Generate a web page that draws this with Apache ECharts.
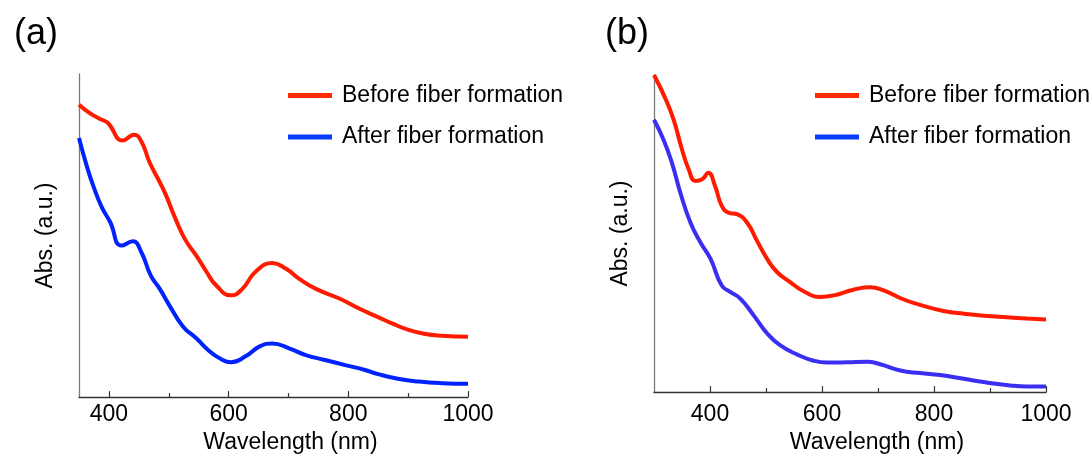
<!DOCTYPE html>
<html>
<head>
<meta charset="utf-8">
<script src="https://cdn.jsdelivr.net/npm/echarts@6/dist/echarts.min.js"></script>
<style>
html,body{margin:0;padding:0;background:#fff;}
#chart{width:1091px;height:459px;}
</style>
</head>
<body>
<div id="chart"></div>
<script>
// ---- Panel (a) data ----
const wlA_before = [350,368,385,398,423,442,454,468,485,496,510,527,546,563,579,604,623,645,673,696,718,746,785,818,848,873,902,929,957,1000];
const absA_before = [0.905,0.879,0.861,0.849,0.794,0.812,0.792,0.726,0.665,0.622,0.557,0.489,0.438,0.388,0.346,0.315,0.335,0.388,0.415,0.397,0.366,0.335,0.305,0.274,0.249,0.228,0.207,0.195,0.190,0.187];
const wlA_after = [350,363,374,388,402,421,440,454,470,485,501,524,546,568,585,604,629,652,673,701,729,761,795,828,850,885,918,957,1000];
const absA_after = [0.802,0.715,0.653,0.588,0.542,0.469,0.482,0.449,0.376,0.335,0.284,0.218,0.182,0.142,0.120,0.108,0.127,0.157,0.166,0.151,0.130,0.115,0.099,0.084,0.071,0.056,0.048,0.043,0.041];
// ---- Panel (b) data ----
const wlB_before = [300,320,335,350,362,374,386,397,409,421,433,448,466,484,502,520,543,567,597,621,656,686,710,746,781,817,853,889,930,966,1000];
const absB_before = [1.000,0.927,0.859,0.765,0.702,0.666,0.671,0.692,0.650,0.587,0.566,0.561,0.535,0.477,0.420,0.378,0.347,0.318,0.300,0.305,0.323,0.331,0.321,0.292,0.272,0.256,0.247,0.241,0.236,0.232,0.229];
const wlB_after = [300,317,332,347,365,383,401,421,436,454,478,502,525,555,585,609,645,680,704,740,775,811,853,894,936,966,1000];
const absB_after = [0.859,0.796,0.723,0.629,0.535,0.472,0.420,0.336,0.316,0.295,0.242,0.185,0.148,0.119,0.099,0.093,0.094,0.096,0.088,0.068,0.060,0.054,0.042,0.030,0.021,0.018,0.018];
// ---- axis ticks / labels ----
const majorTicks = [400,600,800,1000];
const minorTicks = [500,700,900];
const seriesNames = ['Before fiber formation','After fiber formation'];
const panelLabels = ['(a)','(b)'];

const zip = (xs, ys) => xs.map((x, i) => [x, ys[i]]);
const FONT = "'Liberation Sans', Arial, Helvetica, sans-serif";
const RED = '#ff1a00', BLUE_A = '#0022ff', BLUE_B = '#3a2ef2';

function xAxes(grid, min, labelMargin, nameGap, namePad) {
  return [
    {
      type: 'value', gridIndex: grid, min: min, max: 1000, position: 'bottom',
      name: 'Wavelength (nm)', nameLocation: 'middle', nameGap: nameGap,
      nameTextStyle: {fontFamily: FONT, fontSize: 23, color: '#000', padding: [0,0,0,namePad]},
      axisLine: {show: true, lineStyle: {color: '#333', width: 1.3}},
      axisTick: {show: true, inside: true, length: 6, customValues: majorTicks, lineStyle: {color: '#333', width: 1.2}},
      axisLabel: {customValues: majorTicks, margin: labelMargin, fontFamily: FONT, fontSize: 23, color: '#000',
                  formatter: v => String(v)},
      splitLine: {show: false}
    },
    {
      type: 'value', gridIndex: grid, min: min, max: 1000, position: 'bottom',
      axisLine: {show: false},
      axisTick: {show: true, inside: true, length: 4, customValues: minorTicks, lineStyle: {color: '#333', width: 1.2}},
      axisLabel: {show: false},
      splitLine: {show: false}
    }
  ];
}
function yAxis(grid) {
  return {
    type: 'value', gridIndex: grid, min: 0, max: 1,
    name: 'Abs. (a.u.)', nameLocation: 'middle', nameGap: 22,
    nameTextStyle: {fontFamily: FONT, fontSize: 23, color: '#000'},
    axisLine: {show: true, lineStyle: {color: '#7a7a7a', width: 1.3}},
    axisTick: {show: false}, axisLabel: {show: false}, splitLine: {show: false}
  };
}
function legend(left) {
  return {
    orient: 'vertical', left: left, top: 79, itemWidth: 44, itemHeight: 5, itemGap: 18.5,
    icon: 'rect', selectedMode: false,
    textStyle: {fontFamily: FONT, fontSize: 23, color: '#000', padding: [0,0,0,5]},
    data: [
      {name: seriesNames[0], itemStyle: {color: '#ff2a00'}},
      {name: seriesNames[1], itemStyle: {color: '#0a3cff'}}
    ]
  };
}
function line(name, data, xi, yi, color) {
  return {
    type: 'line', name: name, data: data, xAxisIndex: xi, yAxisIndex: yi,
    smooth: 0.5, showSymbol: false, symbol: 'none', animation: false,
    lineStyle: {color: color, width: 4}, itemStyle: {color: color}
  };
}

const chart = echarts.init(document.getElementById('chart'), null, {renderer: 'canvas'});
chart.setOption({
  backgroundColor: '#fff',
  animation: false,
  title: [
    {text: panelLabels[0], left: 9, top: 11, textStyle: {fontFamily: FONT, fontSize: 36, fontWeight: 'normal', color: '#000'}},
    {text: panelLabels[1], left: 600, top: 11, textStyle: {fontFamily: FONT, fontSize: 36, fontWeight: 'normal', color: '#000'}}
  ],
  legend: [legend(283), legend(810)],
  grid: [
    {left: 79, right: 623, top: 74, bottom: 60},
    {left: 654, right: 45, top: 75, bottom: 65}
  ],
  xAxis: [].concat(xAxes(0, 350, 6, 33, 34), xAxes(1, 300, 11, 38, 54)),
  yAxis: [yAxis(0), yAxis(1)],
  series: [
    line(seriesNames[0], zip(wlA_before, absA_before), 0, 0, RED),
    line(seriesNames[1], zip(wlA_after, absA_after), 0, 0, BLUE_A),
    line(seriesNames[0], zip(wlB_before, absB_before), 2, 1, RED),
    line(seriesNames[1], zip(wlB_after, absB_after), 2, 1, BLUE_B)
  ]
});
</script>
</body>
</html>
